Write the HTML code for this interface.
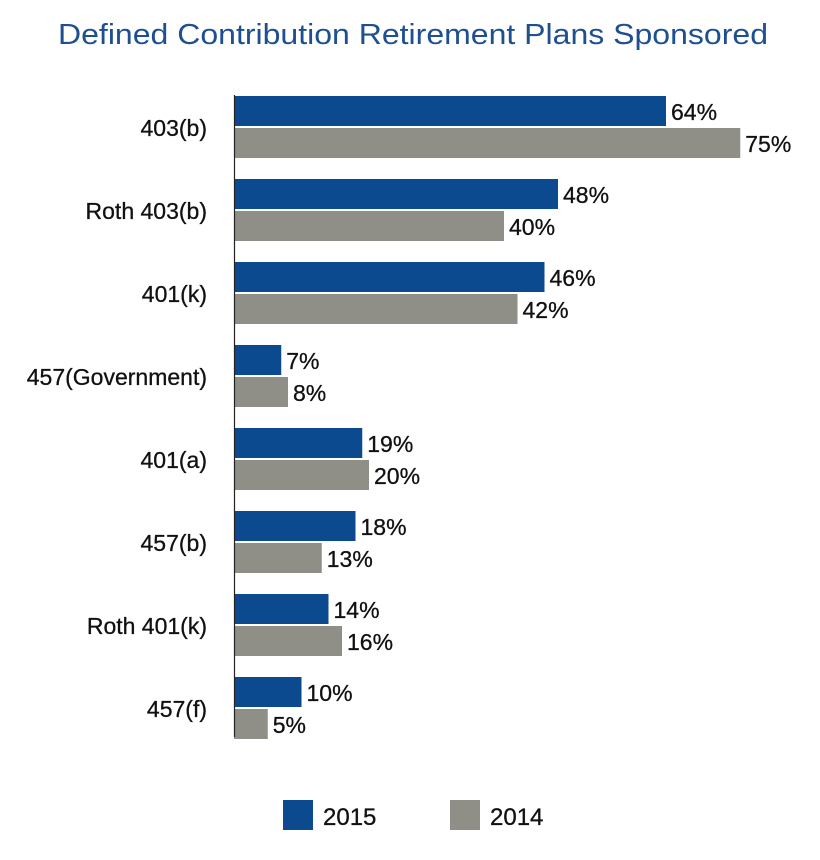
<!DOCTYPE html>
<html><head><meta charset="utf-8"><style>
html,body{margin:0;padding:0;background:#fff;}
svg{display:block;font-family:"Liberation Sans",Arial,sans-serif;}
</style></head><body>
<svg id="chart" width="820" height="860" viewBox="0 0 820 860">
<text x="413" y="44" text-anchor="middle" font-size="29" fill="#1d4f91" textLength="710" lengthAdjust="spacingAndGlyphs">Defined Contribution Retirement Plans Sponsored</text>
<g id="bars"></g>
<line x1="234.5" y1="95" x2="234.5" y2="737" stroke="#222" stroke-width="1.2"/>
<g>
<rect x="283" y="800" width="30" height="30" fill="#0b4a8f"/>
<text x="323" y="825" font-size="24" fill="#111" stroke="#111" stroke-width="0.3">2015</text>
<rect x="450" y="800" width="30" height="30" fill="#8f8e87"/>
<text x="490" y="825" font-size="24" fill="#111" stroke="#111" stroke-width="0.3">2014</text>
</g>
</svg>
<script>
const categories = ["403(b)","Roth 403(b)","401(k)","457(Government)","401(a)","457(b)","Roth 401(k)","457(f)"];
const values2015 = [64,48,46,7,19,18,14,10];
const values2014 = [75,40,42,8,20,13,16,5];
const NS="http://www.w3.org/2000/svg";
const x0=234, pxPer=6.75, top0=96, groupStep=83, barH=30, gap=2;
function xScale(v){return x0+v*pxPer;}
function yScale(i){return top0+i*groupStep;}
const g=document.getElementById('bars');
function mk(tag,attrs){const e=document.createElementNS(NS,tag);for(const k in attrs)e.setAttribute(k,attrs[k]);return e;}
categories.forEach((c,i)=>{
  const y=yScale(i);
  const lbl=mk('text',{x:207,y:y+barH+gap/2+9,'text-anchor':'end','font-size':'23',fill:'#111',stroke:'#111','stroke-width':'0.3'});
  lbl.textContent=c;
  
  
  g.appendChild(lbl);
  [[values2015[i],'#0b4a8f',y,'2015'],[values2014[i],'#8f8e87',y+barH+gap,'2014']].forEach(([v,col,yy,yr])=>{
    const r=mk('rect',{x:x0,y:yy,width:xScale(v)-x0,height:barH,fill:col});
    
    
    g.appendChild(r);
    const t=mk('text',{x:xScale(v)+5,y:yy+24,'font-size':'23',fill:'#111',stroke:'#111','stroke-width':'0.3'});
    t.textContent=v+'%';
    
    
    g.appendChild(t);
  });
});
</script>
</body></html>
